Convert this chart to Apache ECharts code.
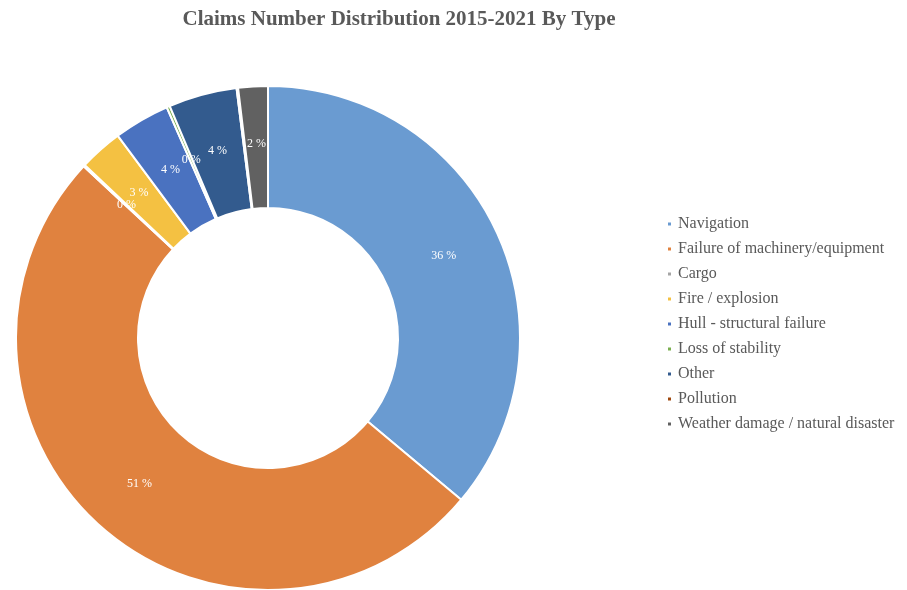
<!DOCTYPE html>
<html>
<head>
<meta charset="utf-8">
<script src="https://cdn.jsdelivr.net/npm/echarts@6/dist/echarts.min.js"></script>
<style>
  html, body { margin: 0; padding: 0; background: #fff; }
  #chart { width: 907px; height: 590px; }
</style>
</head>
<body>
<div id="chart"></div>
<script>
// Claim types, in clockwise order from 12 o'clock
const categories = [
  'Navigation',
  'Failure of machinery/equipment',
  'Cargo',
  'Fire / explosion',
  'Hull - structural failure',
  'Loss of stability',
  'Other',
  'Pollution',
  'Weather damage / natural disaster'
];
// Number of claims per type, 2015-2021
const claimCounts = [362, 510, 1, 28, 36, 2, 44, 1, 19];
const sliceColors = ['#6A9BD1', '#E0823F', '#A5A5A5', '#F4C142', '#4A72C0', '#7AAF4F', '#335B8E', '#9E480E', '#616161'];

const chart = echarts.init(document.getElementById('chart'), null, { renderer: 'canvas' });

chart.setOption({
  animation: false,
  title: {
    text: 'Claims Number Distribution 2015-2021 By Type',
    left: 394,
    textAlign: 'center',
    top: 4,
    textStyle: {
      fontFamily: 'Liberation Serif',
      fontWeight: 'bold',
      fontSize: 21,
      color: '#595959'
    }
  },
  legend: {
    orient: 'vertical',
    left: 661,
    top: 211,
    itemWidth: 5,
    itemHeight: 5,
    itemGap: 9,
    icon: 'rect',
    textStyle: {
      fontFamily: 'Liberation Serif',
      fontSize: 16,
      lineHeight: 16,
      color: '#595959',
      padding: [0, 0, 0, 1]
    },
    data: categories
  },
  color: sliceColors,
  series: [{
    type: 'pie',
    center: [268, 338],
    radius: [130, 252],
    startAngle: 90,
    clockwise: true,
    avoidLabelOverlap: false,
    percentPrecision: 2,
    itemStyle: { borderColor: '#fff', borderWidth: 2 },
    label: {
      show: true,
      position: 'inside',
      color: '#fff',
      fontFamily: 'Liberation Serif',
      fontSize: 12,
      formatter: p => Math.round(p.percent) + ' %'
    },
    labelLine: { show: false },
    emphasis: { disabled: true },
    data: categories.map((name, i) => ({ name, value: claimCounts[i] }))
  }]
});
</script>
</body>
</html>
